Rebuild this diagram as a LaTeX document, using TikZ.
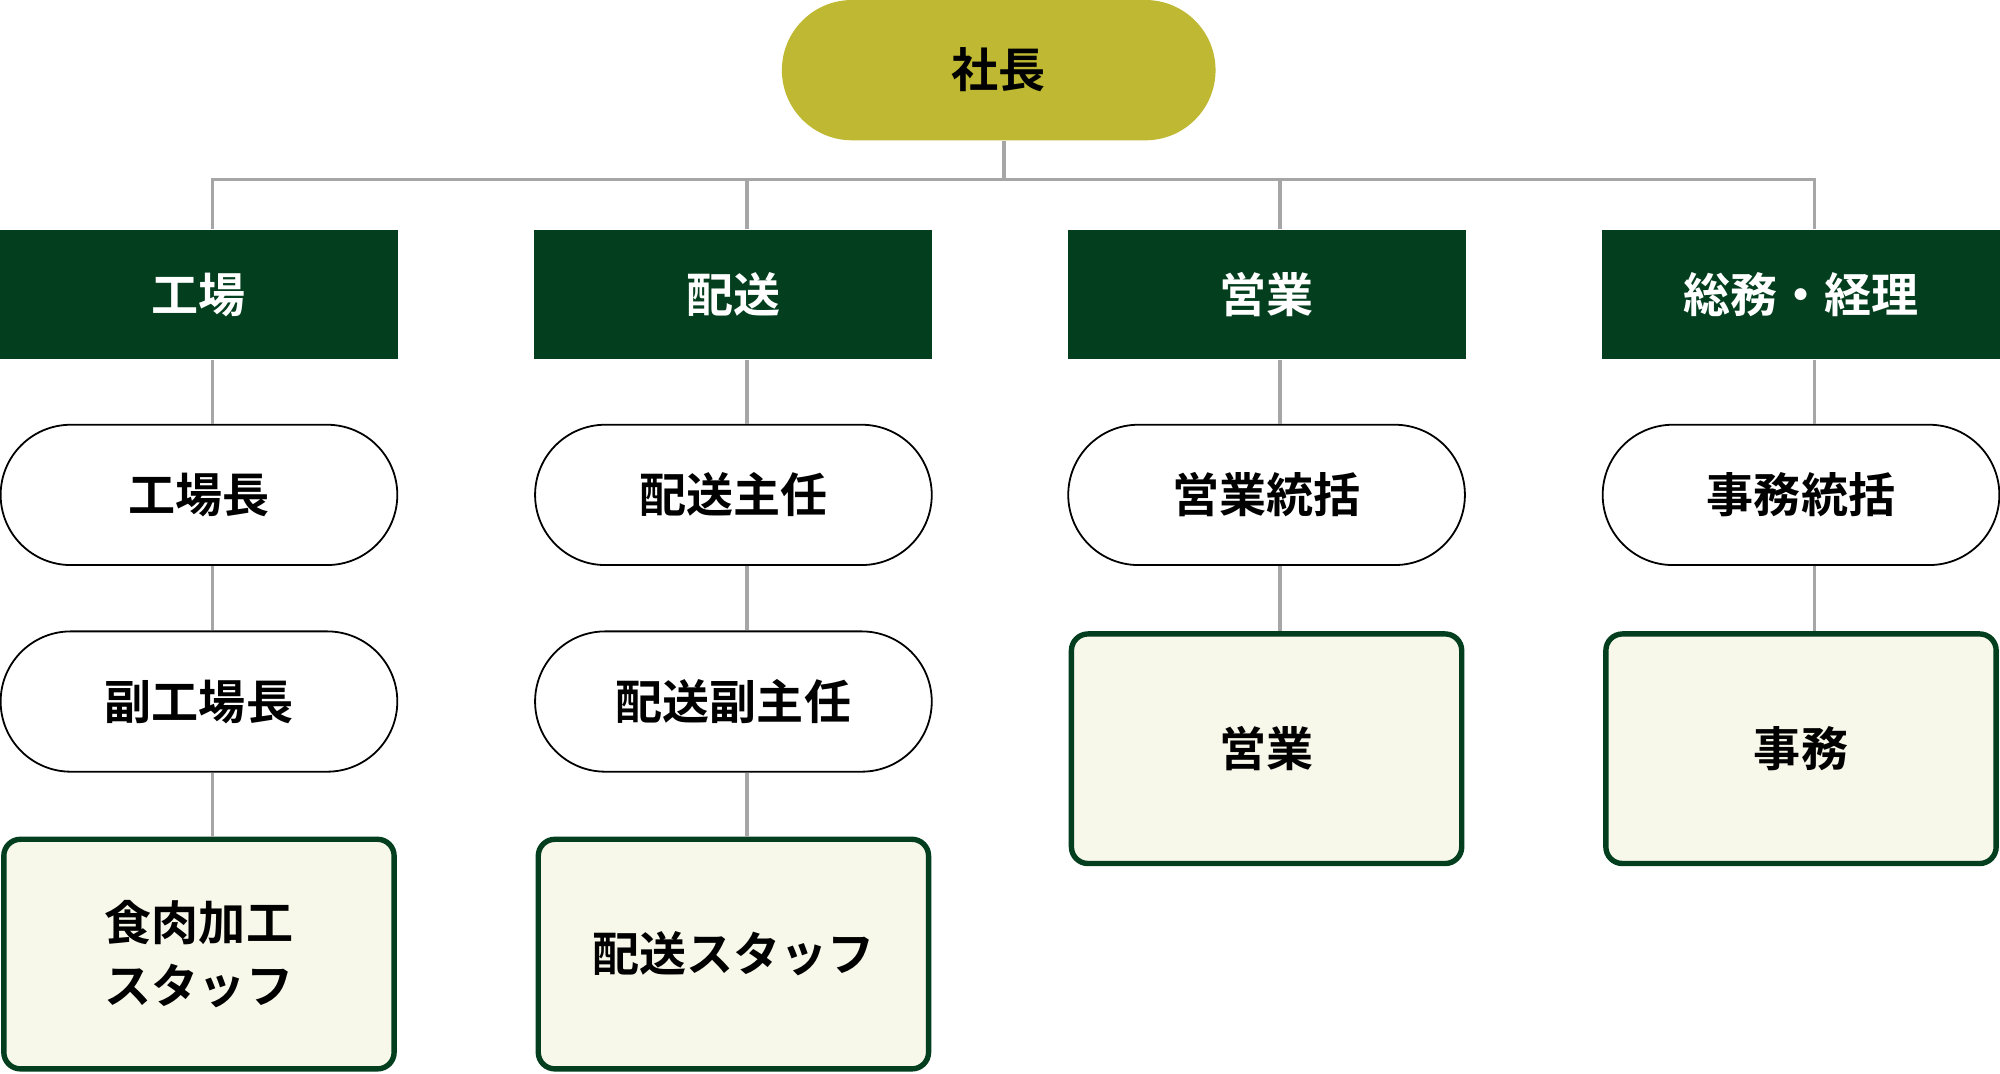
\documentclass[tikz,border=0pt]{standalone}
\usepackage{fontspec}
\setmainfont{Noto Sans CJK JP Bold}
\usetikzlibrary{positioning}
\definecolor{olive}{HTML}{BFB832}
\definecolor{deptgreen}{HTML}{033F1E}
\definecolor{staffbg}{HTML}{F7F7EA}
\definecolor{linegray}{HTML}{A6A6A6}
\tikzset{
  txt/.style={font=\fontsize{10.5}{14}\selectfont, align=center},
  boss/.style={txt, fill=olive, rounded corners=5.5mm, minimum width=34mm, minimum height=11mm},
  dept/.style={txt, fill=deptgreen, text=white, minimum width=31.2mm, minimum height=10.1mm},
  role/.style={txt, draw=black, line width=0.4pt, fill=white, rounded corners=5.5mm, minimum width=31.1mm, minimum height=11mm},
  staff/.style={txt, draw=deptgreen, line width=1.2pt, fill=staffbg, rounded corners=1.3mm, minimum width=30.6mm, minimum height=18mm},
  conn/.style={draw=linegray, line width=0.85pt}
}
\begin{document}
\begin{tikzpicture}[x=0.1mm,y=-0.1mm]
        \useasboundingbox (0,0) rectangle (1568,842);
        
        \node[boss] (pres) at (783,55) {社長};
        
        \node[dept] (fac) at (156,231) {工場};
        \node[dept] (del) at (575,231) {配送};
        \node[dept] (sal) at (993,231) {営業};
        \node[dept] (gen) at (1412,231) {総務・経理};
        
        \node[role] (facA) at (156,388) {工場長};
        \node[role] (facB) at (156,550) {副工場長};
        \node[staff] (facS) at (156,748) {食肉加工\\スタッフ};
        
        \node[role] (delA) at (575,388) {配送主任};
        \node[role] (delB) at (575,550) {配送副主任};
        \node[staff] (delS) at (575,748) {配送スタッフ};
        
        \node[role] (salA) at (993,388) {営業統括};
        \node[staff] (salS) at (993,587) {営業};
        
        \node[role] (genA) at (1412,388) {事務統括};
        \node[staff] (genS) at (1412,587) {事務};
        
        % bus from the top
        \begin{scope}[on background layer/.try]
        \draw[conn] (pres.south) ++(4,0) coordinate (top) -- ++(0,30) coordinate (bus);
        \draw[conn] (bus) -| ([xshift=3pt]fac.north);
        \draw[conn] (bus) -| ([xshift=3pt]del.north);
        \draw[conn] (bus) -| ([xshift=3pt]sal.north);
        \draw[conn] (bus) -| ([xshift=3pt]gen.north);
        \end{scope}
        
        % columns
        \draw[conn] ([xshift=3pt]fac.south) -- ([xshift=3pt]facA.north);
        \draw[conn] ([xshift=3pt]facA.south) -- ([xshift=3pt]facB.north);
        \draw[conn] ([xshift=3pt]facB.south) -- ([xshift=3pt]facS.north);
        \draw[conn] ([xshift=3pt]del.south) -- ([xshift=3pt]delA.north);
        \draw[conn] ([xshift=3pt]delA.south) -- ([xshift=3pt]delB.north);
        \draw[conn] ([xshift=3pt]delB.south) -- ([xshift=3pt]delS.north);
        \draw[conn] ([xshift=3pt]sal.south) -- ([xshift=3pt]salA.north);
        \draw[conn] ([xshift=3pt]salA.south) -- ([xshift=3pt]salS.north);
        \draw[conn] ([xshift=3pt]gen.south) -- ([xshift=3pt]genA.north);
        \draw[conn] ([xshift=3pt]genA.south) -- ([xshift=3pt]genS.north);
    \end{tikzpicture}
\end{document}
